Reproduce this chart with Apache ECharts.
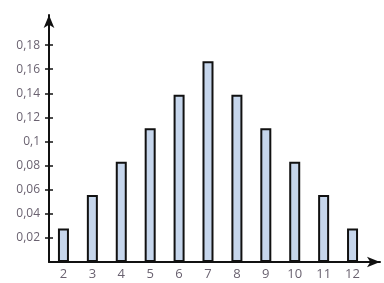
<!DOCTYPE html>
<html><head><meta charset="utf-8">
<script src="https://cdn.jsdelivr.net/npm/echarts@6/dist/echarts.min.js"></script>
<style>html,body{margin:0;padding:0;background:#fff}#c{width:384px;height:283px}</style>
</head><body><div id="c"></div>
<script>
var categories = [2, 3, 4, 5, 6, 7, 8, 9, 10, 11, 12];
var values = [0.0278, 0.0556, 0.0833, 0.1111, 0.1389, 0.1667, 0.1389, 0.1111, 0.0833, 0.0556, 0.0278];
var yTicks = [0.02, 0.04, 0.06, 0.08, 0.1, 0.12, 0.14, 0.16, 0.18];

var chart = echarts.init(document.getElementById('c'));
var fmt = function (v) { return String(+v.toFixed(2)).replace('.', ','); };
chart.setOption({
  animation: false,
  grid: { left: 49, right: 4, top: 15, bottom: 21 },
  xAxis: {
    type: 'value', min: 1.5, max: 12.95,
    splitLine: { show: false },
    axisLine: { show: true, lineStyle: { color: '#111', width: 2 }, symbol: ['none', 'arrow'], symbolSize: [8, 13] },
    axisTick: { show: false },
    axisLabel: { customValues: categories, margin: 6, color: '#6a6270', fontSize: 13, fontFamily: 'Open Sans' }
  },
  yAxis: [{
    type: 'value', min: 0, max: 0.205,
    splitLine: { show: false },
    axisLine: { show: true, lineStyle: { color: '#111', width: 2 }, symbol: ['none', 'arrow'], symbolSize: [8, 13] },
    axisTick: { show: true, customValues: yTicks, length: 4, lineStyle: { color: '#111', width: 1.5 } },
    axisLabel: { customValues: yTicks, formatter: fmt, margin: 9, color: '#6a6270', fontSize: 12, fontFamily: 'Open Sans' }
  }, {
    type: 'value', min: 0, max: 0.205, position: 'left',
    splitLine: { show: false },
    axisLine: { show: false },
    axisTick: { show: true, inside: true, customValues: yTicks, length: 4, lineStyle: { color: '#111', width: 1.5 } },
    axisLabel: { show: false }
  }],
  series: [{
    type: 'bar',
    yAxisIndex: 0,
    barWidth: 11,
    data: categories.map(function (c, i) { return [c, values[i]]; }),
    itemStyle: { color: '#c6d6ec', borderColor: '#111', borderWidth: 2 }
  }]
});
</script></body></html>
